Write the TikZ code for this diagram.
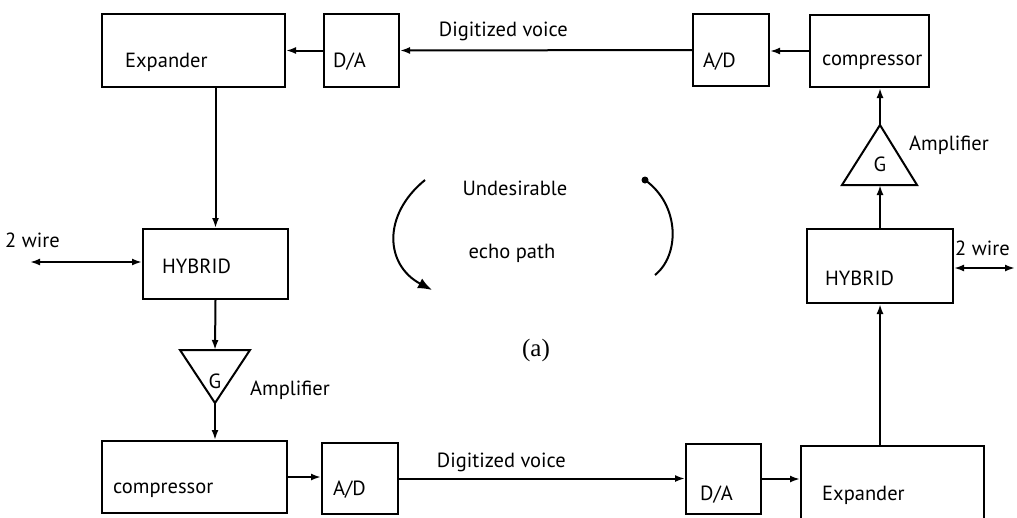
\documentclass[tikz,border=0pt]{standalone}
\usepackage{fontspec}
\setmainfont{PT Sans}
\newfontfamily\seriffont{Liberation Serif}
\usetikzlibrary{arrows.meta}
\tikzset{
  box/.style={draw, line width=2pt, inner sep=0pt, anchor=north west},
  lbl/.style={inner sep=0pt, anchor=west, font=\fontsize{20.5}{22}\selectfont},
  arr/.style={line width=2pt, -{Latex[length=10pt,width=7pt]}},
  dbl/.style={line width=2pt, {Latex[length=10pt,width=7pt]}-{Latex[length=10pt,width=7pt]}},
  tri/.style={draw, line width=2pt, line join=miter},
}
\begin{document}
\begin{tikzpicture}[x=1pt,y=-1pt]
\clip (0,0) rectangle (1017,517);
\fill[white] (0,0) rectangle (1017,517);
% top row
\node[box, minimum width=183pt, minimum height=73pt] (expT) at (101,13) {};
\node[lbl] (expTt) at (125,62) {Expander};
\node[box, minimum width=75pt, minimum height=73pt] (daT) at (323,13) {};
\node[lbl] (daTt) at (333,62) {D/A};
\node[box, minimum width=76pt, minimum height=72pt] (adT) at (692,13) {};
\node[lbl] (adTt) at (703,62) {A/D};
\node[box, minimum width=119pt, minimum height=72pt] (cmpT) at (809,14) {};
\node[lbl] (cmpTt) at (822,62) {compressor};
% right amplifier (pointing up)
\coordinate (triRapex) at (880,125);
\coordinate (triRbase) at (880,185);
\draw[tri] (triRapex) -- (917,185) -- (842,185) -- cycle;
\node[lbl, anchor=center] (triRg) at (880,164) {G};
\node[lbl] (ampR) at (909,145) {Amplifier};
% right hybrid
\node[box, minimum width=146pt, minimum height=74pt] (hybR) at (806,228) {};
\node[lbl] (hybRt) at (825,278) {HYBRID};
\node[lbl] (wireR) at (955,248) {2 wire};
\coordinate (wR) at (1015,268);
% bottom row
\node[box, minimum width=185pt, minimum height=72pt] (cmpB) at (101,440) {};
\node[lbl] (cmpBt) at (113,490) {compressor};
\node[box, minimum width=76pt, minimum height=71pt] (adB) at (321,442) {};
\node[lbl] (adBt) at (333,490) {A/D};
\node[box, minimum width=75pt, minimum height=70pt] (daB) at (685,443) {};
\node[lbl] (daBt) at (700,495) {D/A};
\node[box, minimum width=183pt, minimum height=80pt] (expB) at (800,445) {};
\node[lbl] (expBt) at (822,495) {Expander};
% left hybrid
\node[box, minimum width=145pt, minimum height=70pt] (hybL) at (142,228) {};
\node[lbl] (hybLt) at (162,266) {HYBRID};
\node[lbl] (wireL) at (5,240) {2 wire};
\coordinate (wL) at (30,262);
% left amplifier (pointing down)
\coordinate (triLbase) at (215,350);
\coordinate (triLapex) at (215,403);
\draw[tri] (180,350) -- (250,350) -- (triLapex) -- cycle;
\node[lbl, anchor=center] (triLg) at (215,381) {G};
\node[lbl] (ampL) at (250,390) {Amplifier};
% centre
\node[lbl, anchor=center] (und) at (515,188) {Undesirable};
\node[lbl, anchor=center] (echo) at (512,253) {echo path};
\node[inner sep=0pt, font=\seriffont\fontsize{25}{28}\selectfont] (capa) at (536,350) {(a)};
\coordinate (arcLs) at (425,180);
\coordinate (arcLe) at (432,290);
\draw[line width=2pt, -{Latex[length=14pt,width=11pt]}] (arcLs) .. controls (382,215) and (385,265) .. (arcLe);
\coordinate (arcRs) at (645,180);
\coordinate (arcRe) at (655,275);
\draw[line width=2pt] (arcRs) .. controls (680,205) and (680,255) .. (arcRe);
\fill (arcRs) circle (3.5pt);
% connectors
\draw[arr] (daT.west) -- (expT.east);
\draw[arr] (adT.west) -- node[pos=0.646, lbl, anchor=south, above=8pt] (dvT) {Digitized voice} (daT.east);
\draw[arr] (cmpT.west) -- (cmpT.west -| adT.east);
\draw[arr] (triRapex) -- (triRapex |- cmpT.south);
\draw[arr] (hybR.north) -- (triRbase);
\draw[arr] (hybR.south |- expB.north) -- (hybR.south);
\draw[dbl] (hybR.east |- wR) -- (wR);
\draw[arr] (expT.south -| hybL.north) -- (hybL.north);
\draw[arr] (hybL.south) -- (triLbase);
\draw[arr] (triLapex) -- (triLapex |- cmpB.north);
\draw[dbl] (wL) -- (wL -| hybL.west);
\draw[arr] (cmpB.east) -- (cmpB.east -| adB.west);
\draw[arr] (adB.east) -- node[pos=0.358, lbl, anchor=south, above=6pt] (dvB) {Digitized voice} (adB.east -| daB.west);
\draw[arr] (daB.east) -- (daB.east -| expB.west);
\end{tikzpicture}
\end{document}
